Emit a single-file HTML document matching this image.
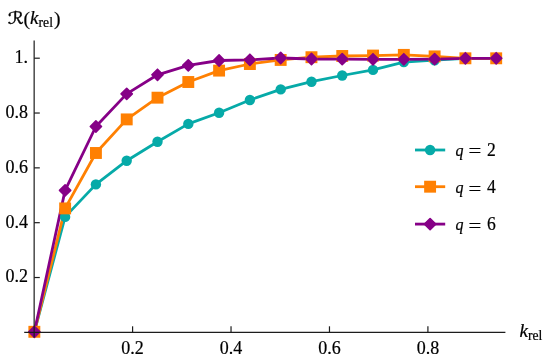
<!DOCTYPE html>
<html><head><meta charset="utf-8"><title>R(k_rel)</title>
<style>
html,body{margin:0;padding:0;background:#fff}
svg{display:block}
.t{font-family:"Liberation Serif","DejaVu Serif",serif;font-size:17.6px;fill:#000;stroke:#000;stroke-width:.2px}
.k{font-size:18px}
.i{font-style:italic}
.q{font-size:16px}
.s{font-size:13.6px}
.kk{font-size:19px}
.p{font-size:19.6px}
.r{font-family:"DejaVu Sans","Liberation Serif",sans-serif;font-size:16.6px;fill:#000;stroke:#000;stroke-width:.35px}
</style></head><body>
<svg width="550" height="360" viewBox="0 0 550 360">
<rect width="550" height="360" fill="#fff"/>
<polyline fill="none" stroke="#06aaa8" stroke-width="2.8" stroke-linejoin="round" points="34.4,331.8 65.1,216.9 95.9,184.4 126.7,160.7 157.5,141.7 188.3,123.9 219.1,112.7 249.9,100.0 280.7,89.4 311.5,81.7 342.2,75.5 373.0,69.9 403.8,62.1 434.6,60.2 465.4,58.3 496.2,58.3"/>
<polyline fill="none" stroke="#ff8002" stroke-width="2.8" stroke-linejoin="round" points="34.4,331.8 65.1,208.4 95.9,153.0 126.7,119.4 157.5,97.7 188.3,82.0 219.1,70.6 249.9,64.0 280.7,59.9 311.5,57.2 342.2,56.0 373.0,55.6 403.8,54.9 434.6,56.4 465.4,58.3 496.2,58.3"/>
<polyline fill="none" stroke="#860087" stroke-width="2.8" stroke-linejoin="round" points="34.4,331.8 65.1,190.4 95.9,126.5 126.7,93.9 157.5,74.8 188.3,65.4 219.1,60.5 249.9,59.8 280.7,58.0 311.5,59.0 342.2,59.1 373.0,59.3 403.8,59.3 434.6,59.1 465.4,58.3 496.2,58.3"/>
<circle cx="34.4" cy="331.8" r="5.2" fill="#06aaa8"/>
<circle cx="65.1" cy="216.9" r="5.2" fill="#06aaa8"/>
<circle cx="95.9" cy="184.4" r="5.2" fill="#06aaa8"/>
<circle cx="126.7" cy="160.7" r="5.2" fill="#06aaa8"/>
<circle cx="157.5" cy="141.7" r="5.2" fill="#06aaa8"/>
<circle cx="188.3" cy="123.9" r="5.2" fill="#06aaa8"/>
<circle cx="219.1" cy="112.7" r="5.2" fill="#06aaa8"/>
<circle cx="249.9" cy="100.0" r="5.2" fill="#06aaa8"/>
<circle cx="280.7" cy="89.4" r="5.2" fill="#06aaa8"/>
<circle cx="311.5" cy="81.7" r="5.2" fill="#06aaa8"/>
<circle cx="342.2" cy="75.5" r="5.2" fill="#06aaa8"/>
<circle cx="373.0" cy="69.9" r="5.2" fill="#06aaa8"/>
<circle cx="403.8" cy="62.1" r="5.2" fill="#06aaa8"/>
<circle cx="434.6" cy="60.2" r="5.2" fill="#06aaa8"/>
<circle cx="465.4" cy="58.3" r="5.2" fill="#06aaa8"/>
<circle cx="496.2" cy="58.3" r="5.2" fill="#06aaa8"/>
<rect x="28.40" y="325.85" width="11.9" height="11.9" fill="#ff8002"/>
<rect x="59.19" y="202.45" width="11.9" height="11.9" fill="#ff8002"/>
<rect x="89.98" y="147.04" width="11.9" height="11.9" fill="#ff8002"/>
<rect x="120.77" y="113.45" width="11.9" height="11.9" fill="#ff8002"/>
<rect x="151.56" y="91.73" width="11.9" height="11.9" fill="#ff8002"/>
<rect x="182.35" y="76.06" width="11.9" height="11.9" fill="#ff8002"/>
<rect x="213.14" y="64.66" width="11.9" height="11.9" fill="#ff8002"/>
<rect x="243.93" y="58.09" width="11.9" height="11.9" fill="#ff8002"/>
<rect x="274.72" y="53.99" width="11.9" height="11.9" fill="#ff8002"/>
<rect x="305.51" y="51.26" width="11.9" height="11.9" fill="#ff8002"/>
<rect x="336.30" y="50.03" width="11.9" height="11.9" fill="#ff8002"/>
<rect x="367.09" y="49.61" width="11.9" height="11.9" fill="#ff8002"/>
<rect x="397.88" y="48.93" width="11.9" height="11.9" fill="#ff8002"/>
<rect x="428.67" y="50.44" width="11.9" height="11.9" fill="#ff8002"/>
<rect x="459.46" y="52.35" width="11.9" height="11.9" fill="#ff8002"/>
<rect x="490.25" y="52.35" width="11.9" height="11.9" fill="#ff8002"/>
<path d="M28.8 331.8L34.4 326.2L40.0 331.8L34.4 337.4Z" fill="#860087" stroke="#860087" stroke-width="1.6" stroke-linejoin="round"/>
<path d="M59.5 190.4L65.1 184.8L70.7 190.4L65.1 196.0Z" fill="#860087" stroke="#860087" stroke-width="1.6" stroke-linejoin="round"/>
<path d="M90.3 126.5L95.9 120.9L101.5 126.5L95.9 132.1Z" fill="#860087" stroke="#860087" stroke-width="1.6" stroke-linejoin="round"/>
<path d="M121.1 93.9L126.7 88.3L132.3 93.9L126.7 99.5Z" fill="#860087" stroke="#860087" stroke-width="1.6" stroke-linejoin="round"/>
<path d="M151.9 74.8L157.5 69.2L163.1 74.8L157.5 80.4Z" fill="#860087" stroke="#860087" stroke-width="1.6" stroke-linejoin="round"/>
<path d="M182.7 65.4L188.3 59.8L193.9 65.4L188.3 71.0Z" fill="#860087" stroke="#860087" stroke-width="1.6" stroke-linejoin="round"/>
<path d="M213.5 60.5L219.1 54.9L224.7 60.5L219.1 66.1Z" fill="#860087" stroke="#860087" stroke-width="1.6" stroke-linejoin="round"/>
<path d="M244.3 59.8L249.9 54.2L255.5 59.8L249.9 65.4Z" fill="#860087" stroke="#860087" stroke-width="1.6" stroke-linejoin="round"/>
<path d="M275.1 58.0L280.7 52.4L286.3 58.0L280.7 63.6Z" fill="#860087" stroke="#860087" stroke-width="1.6" stroke-linejoin="round"/>
<path d="M305.9 59.0L311.5 53.4L317.1 59.0L311.5 64.6Z" fill="#860087" stroke="#860087" stroke-width="1.6" stroke-linejoin="round"/>
<path d="M336.6 59.1L342.2 53.5L347.9 59.1L342.2 64.7Z" fill="#860087" stroke="#860087" stroke-width="1.6" stroke-linejoin="round"/>
<path d="M367.4 59.3L373.0 53.7L378.6 59.3L373.0 64.9Z" fill="#860087" stroke="#860087" stroke-width="1.6" stroke-linejoin="round"/>
<path d="M398.2 59.3L403.8 53.7L409.4 59.3L403.8 64.9Z" fill="#860087" stroke="#860087" stroke-width="1.6" stroke-linejoin="round"/>
<path d="M429.0 59.1L434.6 53.5L440.2 59.1L434.6 64.7Z" fill="#860087" stroke="#860087" stroke-width="1.6" stroke-linejoin="round"/>
<path d="M459.8 58.3L465.4 52.7L471.0 58.3L465.4 63.9Z" fill="#860087" stroke="#860087" stroke-width="1.6" stroke-linejoin="round"/>
<path d="M490.6 58.3L496.2 52.7L501.8 58.3L496.2 63.9Z" fill="#860087" stroke="#860087" stroke-width="1.6" stroke-linejoin="round"/>
<g stroke="#1c1c1c" stroke-width="1.2" fill="none">
<path d="M24.2 332.35H505.4"/>
<path d="M34.15 40.6V337.6"/>
<path d="M132.59 332.35V326.30"/>
<path d="M231.03 332.35V326.30"/>
<path d="M329.47 332.35V326.30"/>
<path d="M427.91 332.35V326.30"/>
<path d="M34.15 277.52H39.80"/>
<path d="M34.15 222.69H39.80"/>
<path d="M34.15 167.86H39.80"/>
<path d="M34.15 113.03H39.80"/>
<path d="M34.15 58.20H39.80"/>
</g>
<g class="t">
<text class="k" transform="translate(132.6 353.6) scale(1 1.05)" text-anchor="middle">0.2</text>
<text class="k" transform="translate(231.0 353.6) scale(1 1.05)" text-anchor="middle">0.4</text>
<text class="k" transform="translate(329.5 353.6) scale(1 1.05)" text-anchor="middle">0.6</text>
<text class="k" transform="translate(427.9 353.6) scale(1 1.05)" text-anchor="middle">0.8</text>
<text class="k" transform="translate(28.0 282.3) scale(1 1.05)" text-anchor="end">0.2</text>
<text class="k" transform="translate(28.0 227.5) scale(1 1.05)" text-anchor="end">0.4</text>
<text class="k" transform="translate(28.0 172.7) scale(1 1.05)" text-anchor="end">0.6</text>
<text class="k" transform="translate(28.0 117.8) scale(1 1.05)" text-anchor="end">0.8</text>
<text class="k" transform="translate(28.0 63.0) scale(1 1.05)" text-anchor="end">1.</text>
</g>
<path d="M415 150.0H445.2" stroke="#06aaa8" stroke-width="2.8"/>
<circle cx="430.1" cy="150.0" r="5.2" fill="#06aaa8"/>
<text class="t" transform="translate(0 155.7) scale(1 1.03)"><tspan class="i q" x="455.4">q</tspan><tspan x="468.6" dy="1.6" textLength="12.8" lengthAdjust="spacingAndGlyphs">=</tspan><tspan x="487.0" dy="-1.6">2</tspan></text>
<path d="M415 186.7H445.2" stroke="#ff8002" stroke-width="2.8"/>
<rect x="424.15" y="180.75" width="11.9" height="11.9" fill="#ff8002"/>
<text class="t" transform="translate(0 192.9) scale(1 1.03)"><tspan class="i q" x="455.4">q</tspan><tspan x="468.6" dy="1.6" textLength="12.8" lengthAdjust="spacingAndGlyphs">=</tspan><tspan x="487.0" dy="-1.6">4</tspan></text>
<path d="M415 224.1H445.2" stroke="#860087" stroke-width="2.8"/>
<path d="M424.5 224.1L430.1 218.5L435.7 224.1L430.1 229.7Z" fill="#860087" stroke="#860087" stroke-width="1.6" stroke-linejoin="round"/>
<text class="t" transform="translate(0 230.3) scale(1 1.03)"><tspan class="i q" x="455.4">q</tspan><tspan x="468.6" dy="1.6" textLength="12.8" lengthAdjust="spacingAndGlyphs">=</tspan><tspan x="487.0" dy="-1.6">6</tspan></text>
<text class="t" y="337"><tspan class="i kk" x="519.4">k</tspan><tspan class="s" x="527.9" dy="2.6">rel</tspan></text>
<text class="r" transform="translate(7.7 24) scale(1.21 1.02)" x="0" y="0">ℛ</text>
<text class="t" y="24"><tspan class="i kk" x="30.0">k</tspan><tspan class="s" x="38.6" dy="2.7">rel</tspan></text>
<text class="t p" y="24.7"><tspan x="23.6">(</tspan><tspan x="53.9">)</tspan></text>
</svg>
</body></html>
